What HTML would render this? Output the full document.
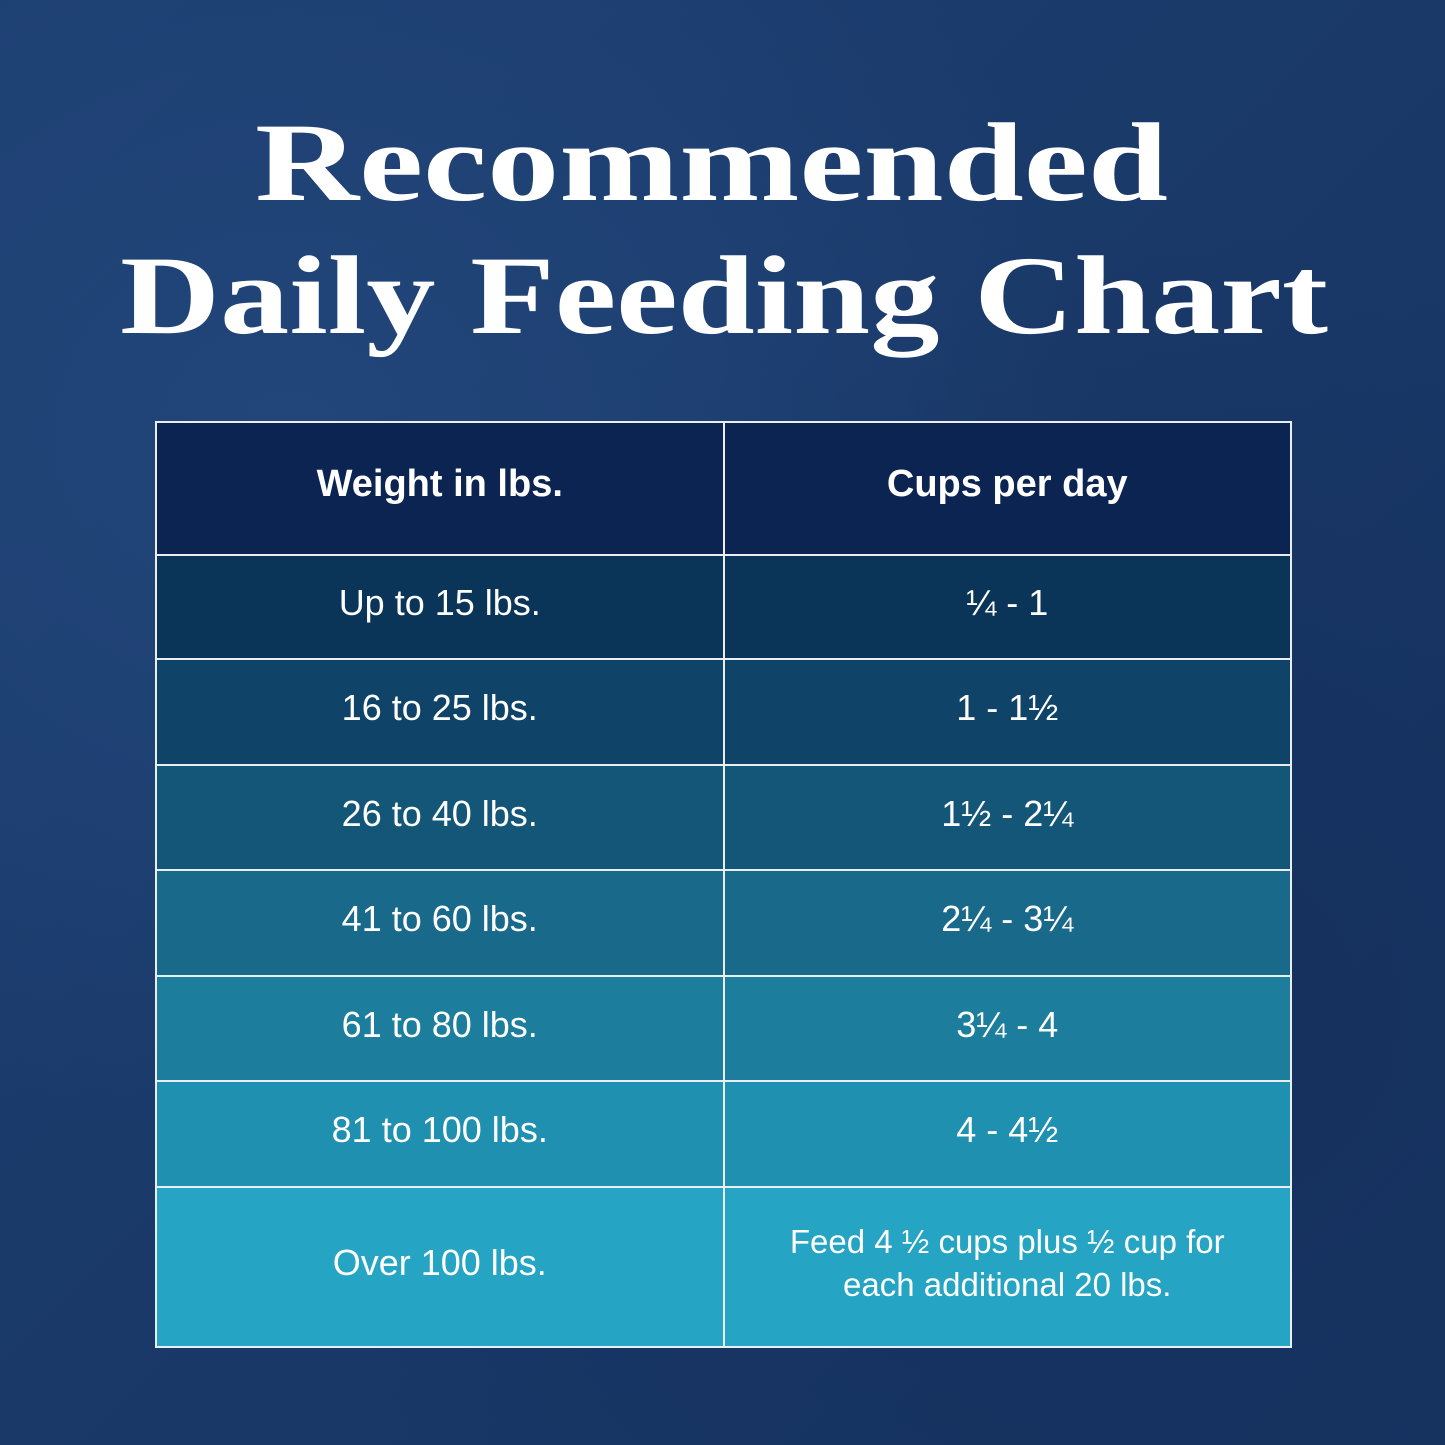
<!DOCTYPE html>
<html><head><meta charset="utf-8"><style>
html,body{margin:0;padding:0}
body{width:1445px;height:1445px;position:relative;overflow:hidden;background:#1b3a6a;
background-image:radial-gradient(ellipse at 20% 30%,#22467a 0%,transparent 50%),radial-gradient(ellipse at 80% 70%,#15305d 0%,transparent 55%),linear-gradient(135deg,#1d3f72,#163360);}
svg.t{position:absolute;left:0;top:0}
table{position:absolute;left:155px;top:421px;width:1137px;border-collapse:collapse;font-family:"Liberation Sans",sans-serif;color:#fff;}
td{border:2px solid #e8eef4;text-align:center;font-size:36px;padding:0 0 8px 0;width:50%}
tr.h td{background:#0b2452;height:123px;font-weight:bold;font-size:38px;padding-bottom:8px}
</style></head><body>
<svg class="t" width="1445" height="420">
<text x="255" y="200" textLength="913" lengthAdjust="spacingAndGlyphs" font-family="Liberation Serif" font-weight="bold" font-size="112" fill="#fff">Recommended</text>
<text x="120" y="333" textLength="1208" lengthAdjust="spacingAndGlyphs" font-family="Liberation Serif" font-weight="bold" font-size="112" fill="#fff">Daily Feeding Chart</text>
</svg>
<table>
<tr class="h"><td>Weight in lbs.</td><td>Cups per day</td></tr>
<tr style="background:#0b3558;height:104px"><td>Up to 15 lbs.</td><td>¼ - 1</td></tr>
<tr style="background:#0f4468;height:106px"><td>16 to 25 lbs.</td><td>1 - 1½</td></tr>
<tr style="background:#145677;height:105px"><td>26 to 40 lbs.</td><td>1½ - 2¼</td></tr>
<tr style="background:#196a8a;height:106px"><td>41 to 60 lbs.</td><td>2¼ - 3¼</td></tr>
<tr style="background:#1c7d9d;height:105px"><td>61 to 80 lbs.</td><td>3¼ - 4</td></tr>
<tr style="background:#1f90b0;height:106px"><td>81 to 100 lbs.</td><td>4 - 4½</td></tr>
<tr style="background:#25a4c3;height:160px"><td>Over 100 lbs.</td><td style="font-size:33px;line-height:43px">Feed 4 ½ cups plus ½ cup for<br>each additional 20 lbs.</td></tr>
</table>
</body></html>
